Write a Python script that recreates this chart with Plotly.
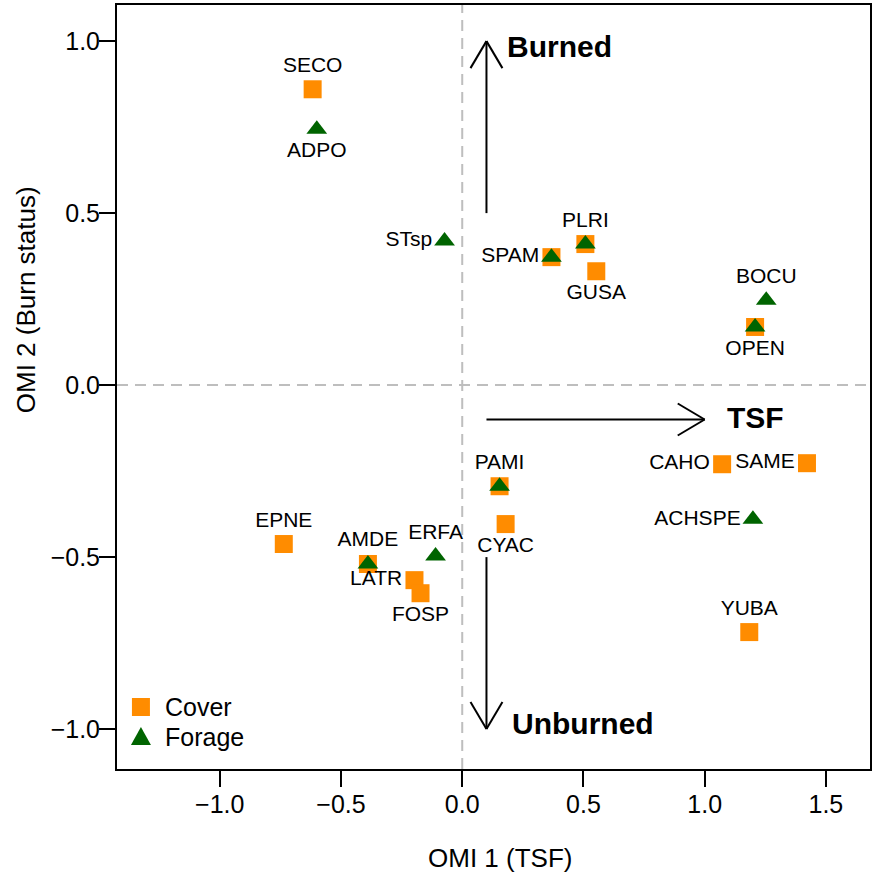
import plotly.graph_objects as go

# ---- data ----
cover_names = ["SECO", "SPAM", "PLRI", "GUSA", "OPEN", "CAHO", "SAME", "YUBA",
               "EPNE", "AMDE", "LATR", "FOSP", "PAMI", "CYAC"]
cover_x = [-0.617, 0.368, 0.508, 0.553, 1.208, 1.072, 1.422, 1.184,
           -0.736, -0.389, -0.197, -0.172, 0.154, 0.179]
cover_y = [0.860, 0.372, 0.410, 0.331, 0.169, -0.230, -0.227, -0.718,
           -0.462, -0.520, -0.567, -0.605, -0.294, -0.404]

forage_names = ["ADPO", "STsp", "SPAM", "PLRI", "BOCU", "OPEN", "ACHSPE",
                "AMDE", "ERFA", "PAMI"]
forage_x = [-0.600, -0.073, 0.368, 0.508, 1.254, 1.208, 1.199, -0.389, -0.110, 0.154]
forage_y = [0.744, 0.419, 0.372, 0.410, 0.247, 0.169, -0.390, -0.520, -0.497, -0.294]

x_ticks = [-1.0, -0.5, 0.0, 0.5, 1.0, 1.5]
y_ticks = [-1.0, -0.5, 0.0, 0.5, 1.0]

series_names = ["Cover", "Forage"]

# ---- styling ----
label_pos = {
    "SECO": "top center", "ADPO": "bottom center", "STsp": "middle left",
    "SPAM": "middle left", "PLRI": "top center", "GUSA": "bottom center",
    "BOCU": "top center", "OPEN": "bottom center", "CAHO": "middle left",
    "SAME": "middle left", "ACHSPE": "middle left", "YUBA": "top center",
    "EPNE": "top center", "AMDE": "top center", "ERFA": "top center",
    "LATR": "middle left", "FOSP": "bottom center", "PAMI": "top center",
    "CYAC": "bottom center",
}
FONT = "Liberation Sans, Arial, sans-serif"
ORANGE = "#FF8C00"
GREEN = "#006400"

W, H = 873, 878
ML, MR, MT, MB = 117, 1, 5, 109
XR = [-1.424, 1.682]
YR = [-1.116, 1.105]
pw, ph = W - ML - MR, H - MT - MB
xs = (XR[1] - XR[0]) / pw   # data units per px
ys = (YR[1] - YR[0]) / ph


def px_to_paper_x(px):
    return (px - ML) / pw


def px_to_paper_y(py):
    return (H - MB - py) / ph


cover_tpos = [label_pos[n] for n in cover_names]
forage_text = [n if n not in cover_names else "" for n in forage_names]
forage_tpos = [label_pos[n] for n in forage_names]

fig = go.Figure()
fig.add_trace(go.Scatter(
    x=cover_x, y=cover_y, mode="markers+text", name=series_names[0],
    text=cover_names, textposition=cover_tpos,
    textfont=dict(family=FONT, size=21, color="black"),
    marker=dict(symbol="square", size=18, color=ORANGE),
))
fig.add_trace(go.Scatter(
    x=forage_x, y=forage_y, mode="markers+text", name=series_names[1],
    text=forage_text, textposition=forage_tpos,
    textfont=dict(family=FONT, size=21, color="black"),
    marker=dict(symbol="triangle-up", size=18, color=GREEN),
))

shapes = []
# dashed reference lines
shapes.append(dict(type="line", xref="x", yref="y", x0=0, x1=0, y0=YR[0], y1=YR[1],
                   line=dict(color="#BEBEBE", width=2, dash="11px,7px"), layer="below"))
shapes.append(dict(type="line", xref="x", yref="y", x0=XR[0], x1=XR[1], y0=0, y1=0,
                   line=dict(color="#BEBEBE", width=2, dash="11px,7px"), layer="below"))


def arrow(x0, y0, x1, y1):
    L = dict(color="black", width=2)
    shapes.append(dict(type="line", xref="x", yref="y", x0=x0, y0=y0, x1=x1, y1=y1, line=L))
    along, perp = 27, 16
    if x0 == x1:  # vertical
        s = 1 if y1 > y0 else -1
        for d in (-1, 1):
            shapes.append(dict(type="line", xref="x", yref="y", x0=x1, y0=y1,
                               x1=x1 + d * perp * xs, y1=y1 - s * along * ys, line=L))
    else:
        s = 1 if x1 > x0 else -1
        for d in (-1, 1):
            shapes.append(dict(type="line", xref="x", yref="y", x0=x1, y0=y1,
                               x1=x1 - s * along * xs, y1=y1 + d * perp * ys, line=L))


arrow(0.1, 0.5, 0.1, 1.0)
arrow(0.1, -0.5, 0.1, -1.0)
arrow(0.1, -0.1, 1.0, -0.1)

# manual legend (pixel-sized symbols anchored in paper coords)
leg_x = px_to_paper_x(141)
leg_y = [px_to_paper_y(707), px_to_paper_y(737)]
shapes.append(dict(type="rect", xref="paper", yref="paper", xsizemode="pixel",
                   ysizemode="pixel", xanchor=leg_x, yanchor=leg_y[0],
                   x0=-9, x1=9, y0=-9, y1=9, fillcolor=ORANGE, line=dict(width=0)))
shapes.append(dict(type="path", xref="paper", yref="paper", xsizemode="pixel",
                   ysizemode="pixel", xanchor=leg_x, yanchor=leg_y[1],
                   path="M -10 -8 L 10 -8 L 0 10 Z", fillcolor=GREEN, line=dict(width=0)))

annotations = [
    dict(x=0.178, y=0.985, text="<b>Burned</b>", showarrow=False, xanchor="left",
         yanchor="middle", font=dict(family=FONT, size=30, color="black")),
    dict(x=1.085, y=-0.093, text="<b>TSF</b>", showarrow=False, xanchor="left",
         yanchor="middle", font=dict(family=FONT, size=30, color="black")),
    dict(x=0.199, y=-0.985, text="<b>Unburned</b>", showarrow=False, xanchor="left",
         yanchor="middle", font=dict(family=FONT, size=30, color="black")),
    dict(xref="paper", yref="paper", x=px_to_paper_x(501), y=px_to_paper_y(858),
         text="OMI 1 (TSF)", showarrow=False, xanchor="center", yanchor="middle",
         font=dict(family=FONT, size=26, color="black")),
    dict(xref="paper", yref="paper", x=px_to_paper_x(26), y=px_to_paper_y(300),
         text="OMI 2 (Burn status)", showarrow=False, textangle=-90,
         xanchor="center", yanchor="middle",
         font=dict(family=FONT, size=26, color="black")),
]
for name, ly in zip(series_names, leg_y):
    annotations.append(dict(xref="paper", yref="paper", x=px_to_paper_x(163), y=ly,
                            text=name, showarrow=False, xanchor="left", yanchor="middle",
                            font=dict(family=FONT, size=25, color="black")))

axis_common = dict(showgrid=False, zeroline=False, showline=True, linecolor="black",
                   linewidth=2, mirror=True, ticks="outside", ticklen=16, tickwidth=2,
                   tickcolor="black", tickformat=".1f",
                   tickfont=dict(family=FONT, size=25, color="black"))

fig.update_layout(
    width=W, height=H, margin=dict(l=ML, r=MR, t=MT, b=MB),
    plot_bgcolor="white", paper_bgcolor="white",
    xaxis=dict(range=XR, tickvals=x_ticks, ticklabelstandoff=-4, **axis_common),
    yaxis=dict(range=YR, tickvals=y_ticks, ticklabelstandoff=-6, **axis_common),
    shapes=shapes, annotations=annotations,
    showlegend=False,
)
fig.write_html("out.html")
